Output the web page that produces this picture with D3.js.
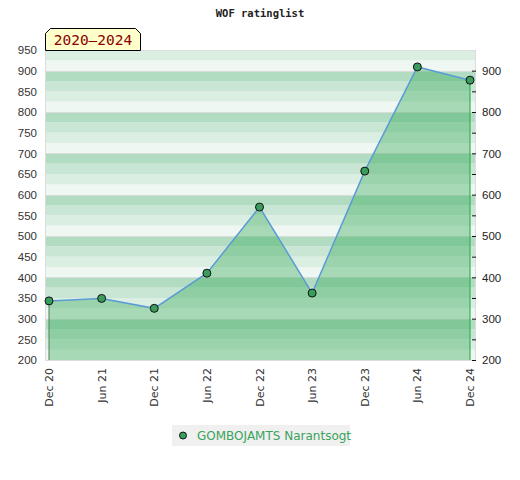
<!DOCTYPE html>
<html>
<head>
<meta charset="utf-8">
<script src="https://cdn.jsdelivr.net/npm/d3@7"></script>
<style>
  body { margin: 0; background: #fff; }
</style>
</head>
<body>
<div id="chart"></div>
<script>
// data
const periods = ["Dec 20", "Jun 21", "Dec 21", "Jun 22", "Dec 22", "Jun 23", "Dec 23", "Jun 24", "Dec 24"];
const ratings = [343, 349, 325, 410, 570, 362, 657, 909, 877];
const leftTicks = [200, 250, 300, 350, 400, 450, 500, 550, 600, 650, 700, 750, 800, 850, 900, 950];
const rightTicks = [200, 300, 400, 500, 600, 700, 800, 900];
const playerName = "GOMBOJAMTS Narantsogt";
const chartTitle = "WOF ratinglist";
const rangeLabel = "2020\u20132024";

let width = 520, height = 480;
let plot = { left: 45, right: 475, top: 50, bottom: 360 };

let svg = d3.select("#chart").append("svg")
    .attr("width", width)
    .attr("height", height)
    .style("font-family", "'DejaVu Sans', sans-serif");

let x = d3.scalePoint().domain(periods).range([49, 470]);
let y = d3.scaleLinear().domain([200, 950]).range([plot.bottom, plot.top]);

// striped background, 4 bands per 100 points
let bandColors = ["#eff7f2", "#dbeee2", "#c8e6d3", "#b2dcc2"];
let bands = d3.range(200, 950, 25);
svg.append("g").selectAll("rect")
    .data(bands)
    .enter().append("rect")
    .attr("x", plot.left)
    .attr("width", plot.right - plot.left)
    .attr("y", d => y(d + 25))
    .attr("height", d => y(d) - y(d + 25))
    .attr("fill", d => bandColors[(d / 25) % 4]);

// faint grid at hundreds
svg.append("g").selectAll("line")
    .data(rightTicks)
    .enter().append("line")
    .attr("x1", plot.left).attr("x2", plot.right)
    .attr("y1", d => Math.round(y(d)) + 0.5).attr("y2", d => Math.round(y(d)) + 0.5)
    .attr("stroke", "#d8ddd9")
    .attr("stroke-width", 1);

// frame
svg.append("rect")
    .attr("x", plot.left + 0.5).attr("y", plot.top + 0.5)
    .attr("width", plot.right - plot.left).attr("height", plot.bottom - plot.top)
    .attr("fill", "none")
    .attr("stroke", "#dcdcdc");

// area under the rating line
let area = d3.area()
    .x((d, i) => x(periods[i]))
    .y0(y(200))
    .y1(d => y(d));

svg.append("path")
    .datum(ratings)
    .attr("d", area)
    .attr("fill", "rgb(50,168,85)")
    .attr("fill-opacity", 0.38);

// edges of the area
svg.append("line")
    .attr("x1", x(periods[0])).attr("x2", x(periods[0]))
    .attr("y1", y(ratings[0])).attr("y2", y(200))
    .attr("stroke", "#4f7f5c").attr("stroke-width", 1);
svg.append("line")
    .attr("x1", x(periods[periods.length - 1])).attr("x2", x(periods[periods.length - 1]))
    .attr("y1", y(ratings[ratings.length - 1])).attr("y2", y(200))
    .attr("stroke", "#2fb257").attr("stroke-width", 1.2);

let line = d3.line()
    .x((d, i) => x(periods[i]))
    .y(d => y(d));

svg.append("path")
    .datum(ratings)
    .attr("d", line)
    .attr("fill", "none")
    .attr("stroke", "#5b9bd5")
    .attr("stroke-width", 1.5);

svg.append("g").selectAll("circle")
    .data(ratings)
    .enter().append("circle")
    .attr("cx", (d, i) => x(periods[i]))
    .attr("cy", d => y(d))
    .attr("r", 4)
    .attr("fill", "#3a9d5d")
    .attr("stroke", "#111")
    .attr("stroke-width", 1);

// left axis: labels only
let leftAxis = svg.append("g")
    .attr("transform", "translate(" + plot.left + ",0)")
    .call(d3.axisLeft(y).tickValues(leftTicks).tickSize(0).tickPadding(8));
leftAxis.select(".domain").remove();
leftAxis.selectAll("text").attr("fill", "#333").style("font-size", "11.5px");

// right axis: ticks every 50, labels every 100
let rightAxis = svg.append("g")
    .attr("transform", "translate(472,0)")
    .call(d3.axisRight(y).tickValues(leftTicks.filter(d => d < 950))
        .tickSize(4).tickPadding(6)
        .tickFormat(d => rightTicks.includes(d) ? d : ""));
rightAxis.select(".domain").remove();
rightAxis.selectAll("line").attr("stroke", "#111");
rightAxis.selectAll("text").attr("fill", "#222").style("font-size", "11.5px");

// x labels, rotated
svg.append("g").selectAll("text")
    .data(periods)
    .enter().append("text")
    .attr("transform", d => "translate(" + (x(d) + 4) + ",368) rotate(-90)")
    .attr("text-anchor", "end")
    .attr("fill", "#333")
    .style("font-size", "11px")
    .text(d => d);

// title
svg.append("text")
    .attr("x", 260).attr("y", 17)
    .attr("text-anchor", "middle")
    .attr("fill", "#222")
    .style("font-family", "'DejaVu Sans Mono', monospace")
    .style("font-weight", "bold")
    .style("font-size", "10.5px")
    .text(chartTitle);

// period tag
let tag = svg.append("g");
tag.append("path")
    .attr("d", "M45.5,50.5 L45.5,33.5 L50.5,28.5 L135.5,28.5 L140.5,33.5 L140.5,50.5 Z")
    .attr("fill", "#ffffcc")
    .attr("stroke", "#000")
    .attr("stroke-width", 1);
tag.append("text")
    .attr("x", 93).attr("y", 45)
    .attr("text-anchor", "middle")
    .attr("fill", "#8b0000")
    .style("font-family", "'DejaVu Sans Mono', monospace")
    .style("font-size", "14.5px")
    .text(rangeLabel);

// legend
let legend = svg.append("g");
legend.append("rect")
    .attr("x", 172).attr("y", 425)
    .attr("width", 178).attr("height", 21)
    .attr("fill", "#f0f0f0");
legend.append("circle")
    .attr("cx", 183).attr("cy", 435.5)
    .attr("r", 3.5)
    .attr("fill", "#3a9d5d")
    .attr("stroke", "#111");
legend.append("text")
    .attr("x", 197).attr("y", 440)
    .attr("fill", "#3aa35c")
    .style("font-size", "12px")
    .text(playerName);
</script>
</body>
</html>
